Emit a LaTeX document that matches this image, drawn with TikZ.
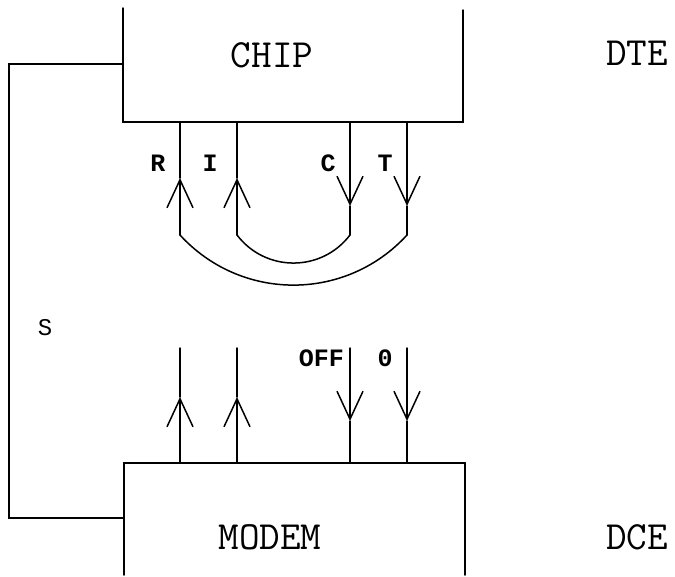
\documentclass[tikz,border=0pt]{standalone}
\usepackage{fontspec}
\newfontfamily\labfont{Liberation Mono}
\usetikzlibrary{arrows.meta}
\begin{document}
\begin{tikzpicture}[x=1pt,y=-1pt,
  wire/.style={line width=1.5pt,line cap=round,line join=miter},
  upv/.style={wire,-{Straight Barb[length=28pt,width=26pt,line width=1.5pt]}},
  big/.style={font=\fontsize{40}{40}\selectfont\ttfamily,inner sep=0pt},
  lab/.style={font=\fontsize{25}{25}\selectfont\labfont\bfseries,inner sep=0pt}]
\useasboundingbox (0,0) rectangle (675,576);
% box corners
\coordinate (chipTL) at (123,8);
\coordinate (chipBL) at (123,122);
\coordinate (chipBR) at (463,122);
\coordinate (chipTR) at (463,10);
\coordinate (modTL) at (124,463);
\coordinate (modBL) at (124,575);
\coordinate (modTR) at (465,463);
\coordinate (modBR) at (465,575);
\draw[wire] (chipTL) -- (chipBL) -- (chipBR) -- (chipTR);
\draw[wire] (modBL) -- (modTL) -- (modTR) -- (modBR);
% S loop
\coordinate (sA) at (123,64);
\coordinate (sB) at (9,64);
\coordinate (sC) at (9,518);
\coordinate (sD) at (124,518);
\draw[wire] (sA) -- (sB) -- (sC) -- (sD);
% texts
\node[big] (chip) at (272,55) {CHIP};
\node[big] (modem) at (270,537) {MODEM};
\node[big] (dte) at (637,53) {DTE};
\node[big] (dce) at (637,537) {DCE};
\node[font=\fontsize{24}{24}\selectfont\labfont,inner sep=0pt] (s) at (45,328) {S};
\node[lab] (r) at (158,163) {R};
\node[lab] (i) at (210,163) {I};
\node[lab] (c) at (328,163) {C};
\node[lab] (t) at (385,163) {T};
\node[lab,anchor=east] (off) at (344,358) {OFF};
\node[lab] (zero) at (385,358) {0};
% upper wires
\coordinate (rt) at (180,122); \coordinate (ra) at (180,178); \coordinate (rb) at (180,235);
\coordinate (it) at (237,122); \coordinate (ia) at (237,178); \coordinate (ib) at (237,235);
\coordinate (ct) at (350,122); \coordinate (ca) at (350,206); \coordinate (cb) at (350,235);
\coordinate (tt) at (407,122); \coordinate (ta) at (407,206); \coordinate (tb) at (407,235);
\draw[upv] (rb) -- (ra); \draw[wire] (ra) -- (rt);
\draw[upv] (ib) -- (ia); \draw[wire] (ia) -- (it);
\draw[upv] (ct) -- (ca); \draw[wire] (ca) -- (cb);
\draw[upv] (tt) -- (ta); \draw[wire] (ta) -- (tb);
\draw[wire] (rb) .. controls (241.1,301.8) and (345.9,301.8) .. (tb);
\draw[wire] (ib) .. controls (265.5,272.4) and (321.5,272.4) .. (cb);
% lower wires
\coordinate (l1t) at (180,348); \coordinate (l1a) at (180,397); \coordinate (l1b) at (180,463);
\coordinate (l2t) at (237,348); \coordinate (l2a) at (237,397); \coordinate (l2b) at (237,463);
\coordinate (l3t) at (350,348); \coordinate (l3a) at (350,421); \coordinate (l3b) at (350,463);
\coordinate (l4t) at (407,348); \coordinate (l4a) at (407,421); \coordinate (l4b) at (407,463);
\draw[upv] (l1b) -- (l1a); \draw[wire] (l1a) -- (l1t);
\draw[upv] (l2b) -- (l2a); \draw[wire] (l2a) -- (l2t);
\draw[upv] (l3t) -- (l3a); \draw[wire] (l3a) -- (l3b);
\draw[upv] (l4t) -- (l4a); \draw[wire] (l4a) -- (l4b);
\end{tikzpicture}
\end{document}
